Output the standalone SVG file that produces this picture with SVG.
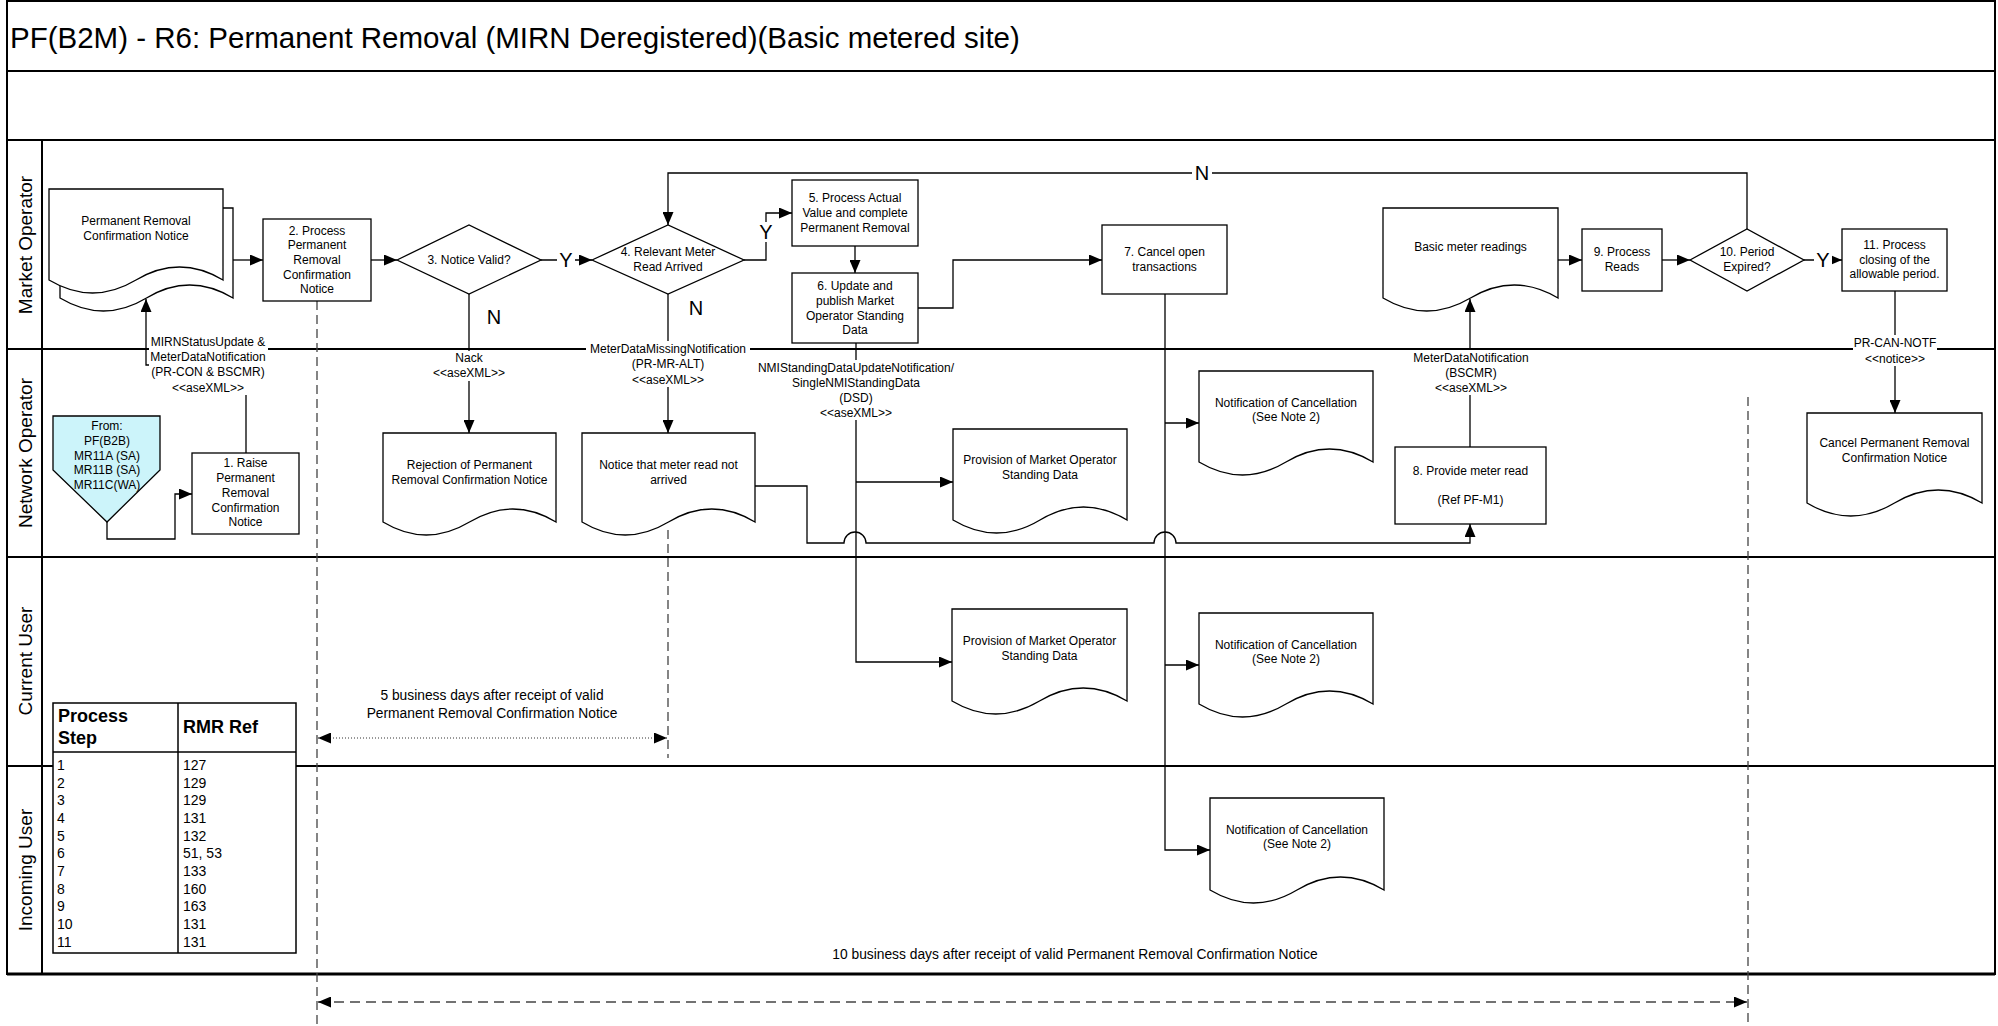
<svg xmlns="http://www.w3.org/2000/svg" width="1998" height="1026" viewBox="0 0 1998 1026">
<style>
.ln{stroke:#000;stroke-width:1.3;fill:none}
.lane{stroke:#000;stroke-width:2;fill:none}
.nd{fill:#fff;stroke:#000;stroke-width:1.3}
.ds{stroke:#444;stroke-width:1.3;fill:none;stroke-dasharray:9,5}
.t{font-family:"Liberation Sans",Arial,sans-serif;font-size:12px;text-anchor:middle;fill:#000}
.tm{font-family:"Liberation Sans",Arial,sans-serif;font-size:13.8px;text-anchor:middle;fill:#000}
.tl{font-family:"Liberation Sans",Arial,sans-serif;font-size:14px;fill:#000}
.th{font-family:"Liberation Sans",Arial,sans-serif;font-size:18px;font-weight:bold;fill:#000}
.yn{font-family:"Liberation Sans",Arial,sans-serif;font-size:20px;text-anchor:middle;fill:#000}
.ll{font-family:"Liberation Sans",Arial,sans-serif;font-size:19px;text-anchor:middle;fill:#000}
.bg{fill:#fff;stroke:none}
</style>
<defs>
<marker id="ah" viewBox="0 0 13 11" refX="13" refY="5.5" markerWidth="13" markerHeight="11" markerUnits="userSpaceOnUse" orient="auto"><path d="M0,0 L13,5.5 L0,11 z" fill="#000"/></marker>
<marker id="ahs" viewBox="0 0 13 11" refX="0" refY="5.5" markerWidth="13" markerHeight="11" markerUnits="userSpaceOnUse" orient="auto"><path d="M13,0 L0,5.5 L13,11 z" fill="#000"/></marker>
</defs>
<rect x="0" y="0" width="1998" height="1026" fill="#fff"/>
<g id="frame">
<rect x="7" y="1" width="1988" height="973" fill="none" stroke="#000" stroke-width="2"/>
<line class="lane" x1="7" y1="71" x2="1995" y2="71" stroke="#555"/>
<line class="lane" x1="7" y1="140" x2="1995" y2="140"/>
<line class="lane" x1="7" y1="349" x2="1995" y2="349"/>
<line class="lane" x1="7" y1="557" x2="1995" y2="557"/>
<line class="lane" x1="7" y1="766" x2="1995" y2="766"/>
<line x1="7" y1="974" x2="1995" y2="974" stroke="#000" stroke-width="3"/>
<line class="lane" x1="42" y1="140" x2="42" y2="974"/>
<text x="10" y="48" font-family="Liberation Sans, Arial, sans-serif" font-size="29.5">PF(B2M) - R6: Permanent Removal (MIRN Deregistered)(Basic metered site)</text>
<text class="ll" transform="translate(32,245) rotate(-90)">Market Operator</text>
<text class="ll" transform="translate(32,453) rotate(-90)">Network Operator</text>
<text class="ll" transform="translate(32,661) rotate(-90)">Current User</text>
<text class="ll" transform="translate(32,870) rotate(-90)">Incoming User</text>
</g>
<g id="timing">
<path class="ds" d="M317,301 V1026"/>
<path class="ds" d="M668,530 V758"/>
<path class="ds" d="M1748,397 V1026"/>
<path d="M318,738 H667" stroke="#333" stroke-width="1" stroke-dasharray="1,2" fill="none" marker-start="url(#ahs)" marker-end="url(#ah)"/>
<path d="M318,1002 H1747" stroke="#444" stroke-width="1.3" stroke-dasharray="10,6" fill="none" marker-start="url(#ahs)" marker-end="url(#ah)"/>
<text class="tm" x="492" y="700">5 business days after receipt of valid</text>
<text class="tm" x="492" y="718">Permanent Removal Confirmation Notice</text>
<text class="tm" x="1075" y="959">10 business days after receipt of valid Permanent Removal Confirmation Notice</text>
</g>
<g id="connectors">
<path class="ln" d="M107,522 V539 H175 V494 H192" marker-end="url(#ah)"/>
<path class="ln" d="M246,453 V365 H146 V299" marker-end="url(#ah)"/>
<path class="ln" d="M233,260 H263" marker-end="url(#ah)"/>
<path class="ln" d="M371,260 H397" marker-end="url(#ah)"/>
<path class="ln" d="M541,260 H592" marker-end="url(#ah)"/>
<path class="ln" d="M469,294 V433" marker-end="url(#ah)"/>
<path class="ln" d="M744,260 H766 V213 H792" marker-end="url(#ah)"/>
<path class="ln" d="M668,294 V433" marker-end="url(#ah)"/>
<path class="ln" d="M855,246 V273" marker-end="url(#ah)"/>
<path class="ln" d="M918,308 H953 V260 H1102" marker-end="url(#ah)"/>
<path class="ln" d="M856,343 V662 H952" marker-end="url(#ah)"/>
<path class="ln" d="M856,482 H953" marker-end="url(#ah)"/>
<path class="ln" d="M1165,294 V850 H1210" marker-end="url(#ah)" stroke-width="1.6"/>
<path class="ln" d="M1165,423 H1199" marker-end="url(#ah)"/>
<path class="ln" d="M1165,665 H1199" marker-end="url(#ah)"/>
<path class="ln" d="M755,486 H807 V543 H844 A11,11 0 0 1 866,543 H1154 A11,11 0 0 1 1176,543 H1470 V524" marker-end="url(#ah)"/>
<path class="ln" d="M1470,447 V299" marker-end="url(#ah)"/>
<path class="ln" d="M1558,260 H1582" marker-end="url(#ah)"/>
<path class="ln" d="M1662,260 H1690" marker-end="url(#ah)"/>
<path class="ln" d="M1804,260 H1842" marker-end="url(#ah)"/>
<path class="ln" d="M1747,229 V173 H668 V225" marker-end="url(#ah)"/>
<path class="ln" d="M1895,291 V413" marker-end="url(#ah)"/>
<rect class="bg" x="149" y="334" width="119" height="61"/>
<text class="t"><tspan x="208" y="346">MIRNStatusUpdate &amp;</tspan><tspan x="208" y="361">MeterDataNotification</tspan><tspan x="208" y="376">(PR-CON &amp; BSCMR)</tspan><tspan x="208" y="392">&lt;&lt;aseXML&gt;&gt;</tspan></text>
<rect class="bg" x="436" y="351" width="66" height="30"/>
<text class="t"><tspan x="469" y="362">Nack</tspan><tspan x="469" y="377">&lt;&lt;aseXML&gt;&gt;</tspan></text>
<rect class="bg" x="586" y="341" width="164" height="46"/>
<text class="t"><tspan x="668" y="353">MeterDataMissingNotification</tspan><tspan x="668" y="368">(PR-MR-ALT)</tspan><tspan x="668" y="384">&lt;&lt;aseXML&gt;&gt;</tspan></text>
<rect class="bg" x="755" y="360" width="202" height="60"/>
<text class="t"><tspan x="856" y="372">NMIStandingDataUpdateNotification/</tspan><tspan x="856" y="387">SingleNMIStandingData</tspan><tspan x="856" y="402">(DSD)</tspan><tspan x="856" y="417">&lt;&lt;aseXML&gt;&gt;</tspan></text>
<rect class="bg" x="1408" y="350" width="126" height="45"/>
<text class="t"><tspan x="1471" y="362">MeterDataNotification</tspan><tspan x="1471" y="377">(BSCMR)</tspan><tspan x="1471" y="392">&lt;&lt;aseXML&gt;&gt;</tspan></text>
<rect class="bg" x="1853" y="335" width="84" height="31"/>
<text class="t"><tspan x="1895" y="347">PR-CAN-NOTF</tspan><tspan x="1895" y="363">&lt;&lt;notice&gt;&gt;</tspan></text>
<rect class="bg" x="557" y="250" width="18" height="20"/>
<text class="yn" x="566" y="267">Y</text>
<rect class="bg" x="757" y="222" width="18" height="20"/>
<text class="yn" x="766" y="239">Y</text>
<rect class="bg" x="1814" y="250" width="18" height="20"/>
<text class="yn" x="1823" y="267">Y</text>
<rect class="bg" x="1192" y="163" width="20" height="20"/>
<text class="yn" x="1202" y="180">N</text>
<text class="yn" x="494" y="324">N</text>
<text class="yn" x="696" y="315">N</text>
</g>
<g id="n-start">
<path d="M53,416 H160 V470 L107,522 L53,470 Z" fill="#ccf4fa" stroke="#000" stroke-width="1.3"/>
<text class="t"><tspan x="107" y="430">From:</tspan><tspan x="107" y="445">PF(B2B)</tspan><tspan x="107" y="460">MR11A (SA)</tspan><tspan x="107" y="474">MR11B (SA)</tspan><tspan x="107" y="489">MR11C(WA)</tspan></text>
</g>
<g id="n-prcn">
<path class="nd" d="M60,208 H233 V298 Q189.5,272 146.5,298 Q103.5,324 60,298 Z"/>
<path class="nd" d="M49,189 H223 V280 Q179.5,254 136,280 Q92.5,306 49,280 Z"/>
<text class="t"><tspan x="136" y="225">Permanent Removal</tspan><tspan x="136" y="240">Confirmation Notice</tspan></text>
</g>
<g id="n1">
<rect class="nd" x="192" y="453" width="107" height="81"/>
<text class="t"><tspan x="245.5" y="467">1.  Raise</tspan><tspan x="245.5" y="482">Permanent</tspan><tspan x="245.5" y="497">Removal</tspan><tspan x="245.5" y="512">Confirmation</tspan><tspan x="245.5" y="526">Notice</tspan></text>
</g>
<g id="n2">
<rect class="nd" x="263" y="219" width="108" height="82"/>
<text class="t"><tspan x="317" y="235">2.  Process</tspan><tspan x="317" y="249">Permanent</tspan><tspan x="317" y="264">Removal</tspan><tspan x="317" y="279">Confirmation</tspan><tspan x="317" y="293">Notice</tspan></text>
</g>
<g id="n3">
<path class="nd" d="M397,260 L469,225 L541,260 L469,294 Z"/>
<text class="t" x="469" y="264">3. Notice Valid?</text>
</g>
<g id="n4">
<path class="nd" d="M592,260 L668,225 L744,260 L668,294 Z"/>
<text class="t"><tspan x="668" y="256">4.  Relevant Meter</tspan><tspan x="668" y="271">Read Arrived</tspan></text>
</g>
<g id="n5">
<rect class="nd" x="792" y="180" width="126" height="66"/>
<text class="t"><tspan x="855" y="202">5.  Process Actual</tspan><tspan x="855" y="217">Value and complete</tspan><tspan x="855" y="232">Permanent Removal</tspan></text>
</g>
<g id="n6">
<rect class="nd" x="792" y="273" width="126" height="70"/>
<text class="t"><tspan x="855" y="290">6.  Update and</tspan><tspan x="855" y="305">publish Market</tspan><tspan x="855" y="320">Operator Standing</tspan><tspan x="855" y="334">Data</tspan></text>
</g>
<g id="n7">
<rect class="nd" x="1102" y="225" width="125" height="69"/>
<text class="t"><tspan x="1164.5" y="256">7.  Cancel open</tspan><tspan x="1164.5" y="271">transactions</tspan></text>
</g>
<g id="n8">
<rect class="nd" x="1395" y="447" width="151" height="77"/>
<text class="t"><tspan x="1470.5" y="475">8. Provide meter read</tspan><tspan x="1470.5" y="504">(Ref PF-M1)</tspan></text>
</g>
<g id="n9">
<rect class="nd" x="1582" y="229" width="80" height="62"/>
<text class="t"><tspan x="1622" y="256">9.  Process</tspan><tspan x="1622" y="271">Reads</tspan></text>
</g>
<g id="n10">
<path class="nd" d="M1690,260 L1747,229 L1804,260 L1747,291 Z"/>
<text class="t"><tspan x="1747" y="256">10.  Period</tspan><tspan x="1747" y="271">Expired?</tspan></text>
</g>
<g id="n11">
<rect class="nd" x="1842" y="229" width="105" height="62"/>
<text class="t"><tspan x="1894.5" y="249">11.  Process</tspan><tspan x="1894.5" y="264">closing  of the</tspan><tspan x="1894.5" y="278">allowable period.</tspan></text>
</g>
<g id="d-reject">
<path class="nd" d="M383,433 H556 V522 Q512.75,496 469.5,522 Q426.25,548 383,522 Z"/>
<text class="t"><tspan x="469.5" y="469">Rejection of Permanent</tspan><tspan x="469.5" y="484">Removal Confirmation Notice</tspan></text>
</g>
<g id="d-notread">
<path class="nd" d="M582,433 H755 V522 Q711.75,496 668.5,522 Q625.25,548 582,522 Z"/>
<text class="t"><tspan x="668.5" y="469">Notice that meter read not</tspan><tspan x="668.5" y="484">arrived</tspan></text>
</g>
<g id="d-prov-no">
<path class="nd" d="M953,429 H1127 V520 Q1083.5,494 1040,520 Q996.5,546 953,520 Z"/>
<text class="t"><tspan x="1040" y="464">Provision of Market Operator</tspan><tspan x="1040" y="479">Standing Data</tspan></text>
</g>
<g id="d-canc-no">
<path class="nd" d="M1199,371 H1373 V462 Q1329.5,436 1286,462 Q1242.5,488 1199,462 Z"/>
<text class="t"><tspan x="1286" y="407">Notification of Cancellation</tspan><tspan x="1286" y="421">(See Note 2)</tspan></text>
</g>
<g id="d-basic">
<path class="nd" d="M1383,208 H1558 V298 Q1514.25,272 1470.5,298 Q1426.75,324 1383,298 Z"/>
<text class="t" x="1470.5" y="251">Basic meter readings</text>
</g>
<g id="d-cancelpr">
<path class="nd" d="M1807,413 H1982 V503 Q1938.25,477 1894.5,503 Q1850.75,529 1807,503 Z"/>
<text class="t"><tspan x="1894.5" y="447">Cancel Permanent Removal</tspan><tspan x="1894.5" y="462">Confirmation Notice</tspan></text>
</g>
<g id="d-prov-cu">
<path class="nd" d="M952,609 H1127 V701 Q1083.25,675 1039.5,701 Q995.75,727 952,701 Z"/>
<text class="t"><tspan x="1039.5" y="645">Provision of Market Operator</tspan><tspan x="1039.5" y="660">Standing Data</tspan></text>
</g>
<g id="d-canc-cu">
<path class="nd" d="M1199,613 H1373 V704 Q1329.5,678 1286,704 Q1242.5,730 1199,704 Z"/>
<text class="t"><tspan x="1286" y="649">Notification of Cancellation</tspan><tspan x="1286" y="663">(See Note 2)</tspan></text>
</g>
<g id="d-canc-iu">
<path class="nd" d="M1210,798 H1384 V890 Q1340.5,864 1297,890 Q1253.5,916 1210,890 Z"/>
<text class="t"><tspan x="1297" y="834">Notification of Cancellation</tspan><tspan x="1297" y="848">(See Note 2)</tspan></text>
</g>
<g id="table">
<rect x="53" y="703" width="243" height="250" fill="#fff" stroke="#000" stroke-width="1.5"/>
<line x1="178" y1="703" x2="178" y2="953" stroke="#000" stroke-width="1.5"/>
<line x1="53" y1="752" x2="296" y2="752" stroke="#000" stroke-width="1.5"/>
<text class="th"><tspan x="58" y="722">Process</tspan><tspan x="58" y="744">Step</tspan></text>
<text class="th" x="183" y="733">RMR Ref</text>
<text class="tl"><tspan x="57" y="770">1</tspan><tspan x="57" y="788">2</tspan><tspan x="57" y="805">3</tspan><tspan x="57" y="823">4</tspan><tspan x="57" y="841">5</tspan><tspan x="57" y="858">6</tspan><tspan x="57" y="876">7</tspan><tspan x="57" y="894">8</tspan><tspan x="57" y="911">9</tspan><tspan x="57" y="929">10</tspan><tspan x="57" y="947">11</tspan></text>
<text class="tl"><tspan x="183" y="770">127</tspan><tspan x="183" y="788">129</tspan><tspan x="183" y="805">129</tspan><tspan x="183" y="823">131</tspan><tspan x="183" y="841">132</tspan><tspan x="183" y="858">51, 53</tspan><tspan x="183" y="876">133</tspan><tspan x="183" y="894">160</tspan><tspan x="183" y="911">163</tspan><tspan x="183" y="929">131</tspan><tspan x="183" y="947">131</tspan></text>
</g>
</svg>
